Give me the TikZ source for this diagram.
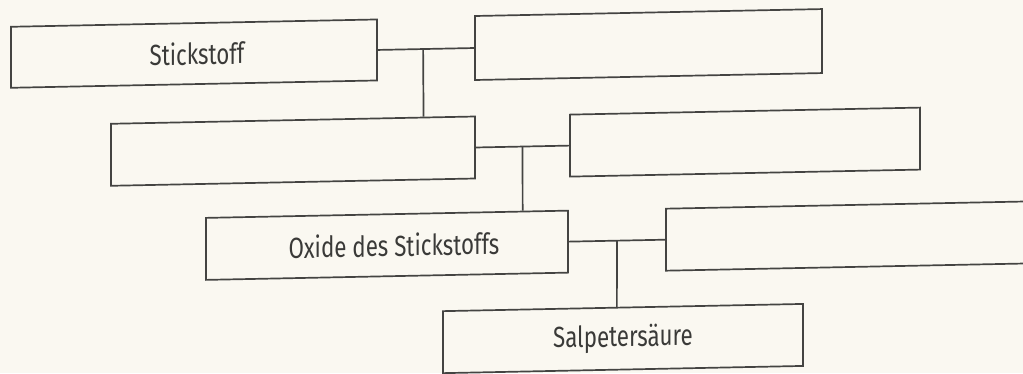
\documentclass[tikz,border=0pt]{standalone}
\usepackage{fontspec}
\setmainfont{Fira Sans}[FakeStretch=0.77]
\usetikzlibrary{calc}
\definecolor{paper}{RGB}{250,248,241}
\definecolor{ink}{RGB}{68,68,66}
\definecolor{txt}{RGB}{58,58,56}
\tikzset{
  box/.style={draw=ink, line width=1.7pt, minimum height=62pt, inner sep=0pt,
    font=\fontsize{29}{33}\selectfont, text=txt, transform shape},
  link/.style={draw=ink, line width=1.7pt},
}
\begin{document}
\begin{tikzpicture}[x=1pt,y=-1pt]
\fill[paper] (0,0) rectangle (1023,373);
\useasboundingbox (0,0) rectangle (1023,373);
\clip (0,0) rectangle (1023,373);
\begin{scope}[yslant=0.02]
  % boxes, row by row
  \node[box, minimum width=366pt, minimum height=61pt] (A) at (194,57.5) {\hspace*{6pt}Stickstoff};
  \node[box, minimum width=347pt, minimum height=64pt] (B) at (648.5,57.5) {};
  \node[box, minimum width=364pt] (C) at (293,157) {};
  \node[box, minimum width=350pt] (D) at (745,157) {};
  \node[box, minimum width=362pt] (E) at (387,253) {\hspace*{14pt}Oxide des Stickstoffs};
  \node[box, minimum width=394pt] (F) at (863,253) {};
  \node[box, minimum width=360pt] (G) at (623,351) {Salpetersäure};
  % junctions on the horizontal links
  \coordinate (j1) at ($(A.east)!0.47!(B.west)$);
  \coordinate (j2) at ($(C.east)!0.5!(D.west)$);
  \coordinate (j3) at ($(E.east)!0.5!(F.west)$);
  % connectors
  \draw[link] (A.east) -- (B.west);
  \draw[link] (j1) -- ($(C.north west)!0.857!(C.north east)$);
  \draw[link] (C.east) -- (D.west);
  \draw[link] (j2) -- ($(E.north west)!0.873!(E.north east)$);
  \draw[link] (E.east) -- (F.west);
  \draw[link] (j3) -- ($(G.north west)!0.483!(G.north east)$);
\end{scope}
\end{tikzpicture}
\end{document}
